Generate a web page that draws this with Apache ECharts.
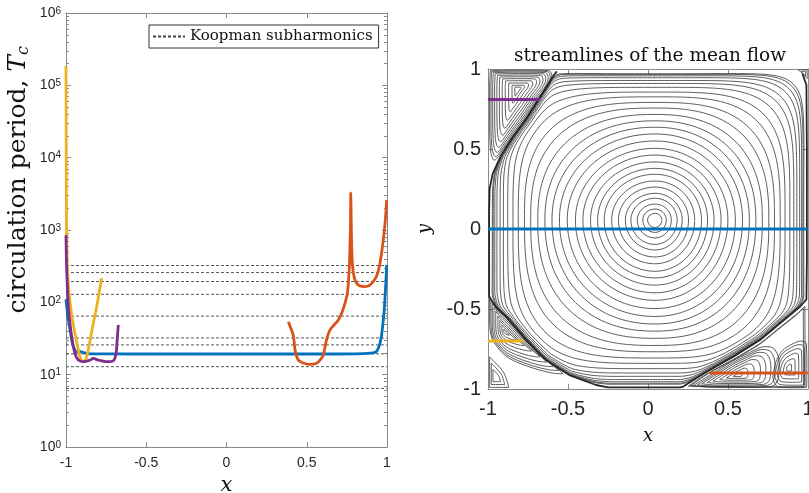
<!DOCTYPE html>
<html>
<head>
<meta charset="utf-8">
<script src="https://cdn.jsdelivr.net/npm/echarts@6/dist/echarts.min.js"></script>
<style>
  html, body { margin: 0; padding: 0; background: #fff; }
  #chart { width: 809px; height: 493px; }
</style>
</head>
<body>
<div id="chart"></div>
<script>
// ---------- circulation period along the four sampling lines ----------
const blueX = [-1, -0.995, -0.985, -0.972, -0.96, -0.945, -0.93, -0.91, -0.89, -0.87, -0.8, -0.6, -0.3, 0, 0.3, 0.6, 0.8, 0.9, 0.925, 0.935, 0.945, 0.956, 0.967, 0.977, 0.983, 0.988, 0.993, 0.996, 0.998];
const blueT = [110, 85, 58, 38, 27, 22, 20.5, 20.8, 20.2, 19.6, 19.4, 19.3, 19.3, 19.3, 19.3, 19.3, 19.4, 19.8, 20.3, 21, 23, 27, 36, 57, 80, 120, 190, 260, 330];

const orangeX = [0.385, 0.416, 0.427, 0.447, 0.477, 0.52, 0.558, 0.583, 0.603, 0.614, 0.626, 0.645, 0.67, 0.697, 0.72, 0.738, 0.751, 0.759, 0.766, 0.769, 0.773, 0.774, 0.777, 0.78, 0.785, 0.794, 0.811, 0.832, 0.863, 0.888, 0.915, 0.938, 0.956, 0.973, 0.988, 0.998];
const orangeT = [54, 35, 22, 15.9, 14.5, 13.9, 14.3, 15.9, 18.7, 24.4, 32, 41.5, 48.6, 57, 73, 97, 126, 183, 328, 588, 1380, 3250, 1380, 588, 328, 230, 183, 168, 165, 170, 194, 238, 347, 620, 1240, 2600];

const yellowX = [-1, -0.999, -0.998, -0.997, -0.995, -0.99, -0.975, -0.955, -0.933, -0.913, -0.898, -0.888, -0.871, -0.85, -0.83, -0.81, -0.795, -0.778];
const yellowT = [185000, 40000, 6000, 1500, 600, 250, 100, 50, 28, 17.7, 15.4, 15.1, 17.7, 30, 51, 85, 130, 215];

const purpleX = [-1, -0.998, -0.995, -0.99, -0.984, -0.965, -0.944, -0.923, -0.892, -0.85, -0.83, -0.799, -0.746, -0.705, -0.688, -0.68, -0.674];
const purpleT = [850, 450, 250, 140, 80, 34, 19.5, 15.9, 15.1, 15.9, 16.8, 15.9, 15.1, 15.6, 19.7, 33.5, 48.6];

// Koopman subharmonic periods (dotted reference levels)
const subharmonics = [6.45, 12.9, 19.4, 25.8, 32.2, 64.5, 129, 194, 258, 323];

// y position of each sampling line in the cavity
const sampleLineY = { blue: 0, orange: -0.9, yellow: -0.7, purple: 0.81 };

// ---------- mean-flow streamlines ----------
// primary vortex: centre and radii of closed streamlines (measured upward from centre)
const vortexCenter = [0.044, 0.056];
const vortexRadii = [0.042, 0.069, 0.10, 0.136, 0.167, 0.206, 0.244, 0.286, 0.323, 0.363, 0.406, 0.448, 0.494, 0.538, 0.58, 0.62, 0.66, 0.70, 0.735, 0.77, 0.80, 0.83, 0.855, 0.875, 0.895, 0.91, 0.922, 0.93];

// dividing streamline around the primary vortex (closed polygon, top wall first)
const sepX = [0.93, 0.5, 0, -0.5, -0.57, -0.6, -0.64, -0.67, -0.76, -0.846, -0.919, -0.971, -0.99, -0.993, -0.993, -0.993, -0.95, -0.888, -0.763, -0.638, -0.492, -0.325, -0.25, 0, 0.2, 0.22, 0.367, 0.533, 0.70, 0.825, 0.95, 0.99, 0.993, 0.993, 0.99, 0.965];
const sepY = [0.988, 0.99, 0.99, 0.99, 0.985, 0.945, 0.88, 0.833, 0.69, 0.573, 0.458, 0.344, 0.25, 0.1, -0.2, -0.42, -0.49, -0.548, -0.694, -0.819, -0.913, -0.975, -0.99, -0.99, -0.99, -0.985, -0.892, -0.798, -0.694, -0.59, -0.486, -0.44, -0.2, 0.5, 0.9, 0.97];

// corner eddies: centre, outermost loop, nested loop fractions
const tlEddyCenter = [-0.815, 0.875];
const tlEddyX = [-0.985, -0.8, -0.62, -0.6, -0.63, -0.68, -0.76, -0.84, -0.91, -0.96, -0.985, -0.99, -0.99];
const tlEddyY = [0.99, 0.993, 0.99, 0.95, 0.88, 0.82, 0.70, 0.59, 0.49, 0.43, 0.5, 0.7, 0.9];
const tlEddyLevels = [0.1, 0.2, 0.32, 0.44, 0.55, 0.65, 0.74, 0.82, 0.89, 0.95, 1];

const blEddyCenter = [-0.894, -0.642];
const blEddyX = [-0.99, -0.94, -0.86, -0.77, -0.67, -0.58, -0.53, -0.6, -0.7, -0.8, -0.88, -0.94, -0.98, -0.99];
const blEddyY = [-0.43, -0.49, -0.565, -0.67, -0.78, -0.86, -0.905, -0.9, -0.875, -0.84, -0.8, -0.74, -0.67, -0.55];
const blEddyLevels = [0.08, 0.2, 0.33, 0.46, 0.6, 0.72, 0.83, 0.92, 1];

const bcEddyCenter = [-0.955, -0.93];
const bcEddyX = [-0.99, -0.99, -0.87, -0.9, -0.95];
const bcEddyY = [-0.8, -0.99, -0.99, -0.9, -0.84];
const bcEddyLevels = [0.4, 0.7, 1];

const raEddyCenter = [0.56, -0.915];
const raEddyX = [0.28, 0.4, 0.52, 0.64, 0.73, 0.79, 0.82, 0.81, 0.76, 0.6, 0.4];
const raEddyY = [-0.98, -0.905, -0.83, -0.77, -0.735, -0.75, -0.84, -0.95, -0.985, -0.99, -0.99];
const raEddyLevels = [0.1, 0.25, 0.4, 0.55, 0.68, 0.8, 0.9, 1];

const rbEddyCenter = [0.88, -0.87];
const rbEddyX = [0.78, 0.8, 0.84, 0.9, 0.96, 0.99, 0.993, 0.99, 0.9, 0.81];
const rbEddyY = [-0.93, -0.83, -0.76, -0.72, -0.7, -0.72, -0.85, -0.99, -0.992, -0.985];
const rbEddyLevels = [0.15, 0.35, 0.55, 0.72, 0.87, 1];

const rEnvCenter = [0.65, -0.9];
const rEnvX = [0.24, 0.367, 0.533, 0.70, 0.825, 0.95, 0.99, 0.992, 0.6];
const rEnvY = [-0.985, -0.9, -0.81, -0.71, -0.61, -0.51, -0.47, -0.99, -0.992];
const rEnvLevels = [0.94, 0.97];

const trEddyCenter = [0.975, 0.975];
const trEddyX = [0.94, 0.995, 0.995];
const trEddyY = [0.995, 0.995, 0.94];
const trEddyLevels = [0.5, 1];

const COLORS = { blue: '#0072BD', orange: '#D95319', yellow: '#EDB120', purple: '#7E2F8E' };
const AXIS_GREY = '#8a8a8a';
const TEXT = '#262626';
const STREAM = '#333333';

// ---------- helpers ----------
function zip(xs, ys) { return xs.map((x, i) => [x, ys[i]]); }

function rayDist(cx, cy, ang, px, py) {
  const dx = Math.cos(ang), dy = Math.sin(ang);
  let best = Infinity;
  for (let i = 0; i < px.length; i++) {
    const j = (i + 1) % px.length;
    const ex = px[j] - px[i], ey = py[j] - py[i];
    const den = dx * ey - dy * ex;
    if (Math.abs(den) < 1e-12) continue;
    const wx = px[i] - cx, wy = py[i] - cy;
    const t = (wx * ey - wy * ex) / den;
    const u = (wx * dy - wy * dx) / den;
    if (t > 0 && u >= -1e-9 && u <= 1 + 1e-9 && t < best) best = t;
  }
  return best;
}

function softMin(a, b, k) {
  const m = Math.min(a, b);
  return m - Math.log(Math.exp(-k * (a - m)) + Math.exp(-k * (b - m))) / k;
}

// closed streamlines of the primary vortex: circular at the core,
// rounded-square further out and bent along the dividing streamline near the eddies
function vortexLoops() {
  const [cx, cy] = vortexCenter;
  const N = 360;
  const bound = [];
  for (let k = 0; k <= N; k++) bound.push(rayDist(cx, cy, 2 * Math.PI * k / N, sepX, sepY));
  const wR = 0.993 - cx, wL = 0.993 + cx, wU = 0.99 - cy, wD = 0.99 + cy;
  return vortexRadii.map(r => {
    const s = r / wU;
    const n = 2 + 6 * Math.pow(s, 8);
    const pts = [];
    for (let k = 0; k <= N; k++) {
      const a = 2 * Math.PI * k / N;
      const c = Math.cos(a), si = Math.sin(a);
      const ax = c >= 0 ? wR : wL, ay = si >= 0 ? wU : wD;
      const rs = Math.pow(Math.pow(Math.abs(c) / ax, n) + Math.pow(Math.abs(si) / ay, n), -1 / n);
      const rb = bound[k] + 0.8 * (1 - s);
      const rr = s * softMin(rs, rb, 40);
      pts.push([cx + rr * c, cy + rr * si]);
    }
    return pts;
  });
}

function eddyLoops(center, xs, ys, levels) {
  return levels.map(s => {
    const pts = xs.map((x, i) => [center[0] + s * (x - center[0]), center[1] + s * (ys[i] - center[1])]);
    pts.push(pts[0]);
    return pts;
  });
}

function streamSeries(loops, smooth, width, color) {
  return loops.map(pts => ({
    type: 'line', xAxisIndex: 2, yAxisIndex: 4, data: pts, smooth: smooth,
    showSymbol: false, symbol: 'none', silent: true, clip: true,
    lineStyle: { color: color || STREAM, width: width || 0.8 }
  }));
}

function sampleLine(xs, y, color) {
  return {
    type: 'line', xAxisIndex: 2, yAxisIndex: 4, symbol: 'none', silent: true, z: 5,
    data: [[xs[0], y], [xs[xs.length - 1], y]],
    lineStyle: { color: color, width: 3 }
  };
}

// dividing streamline drawn open: everything except the stretch along the lid
const sepPath = zip(sepX, sepY).slice(4);

const subData = [];
subharmonics.forEach(v => { subData.push([-1, v], [1, v], [0, '-']); });

const minorVals = [];
for (let e = 0; e < 6; e++) for (let m = 2; m <= 9; m++) minorVals.push(m * Math.pow(10, e));

const logLabel = v => '{b|10}{e|' + Math.round(Math.log10(v)) + '}';

const periodCurve = (name, xs, ts, color) => ({
  name: name, type: 'line', xAxisIndex: 0, yAxisIndex: 0, data: zip(xs, ts),
  symbol: 'none', smooth: 0.25, lineStyle: { color: color, width: 2.8 }, z: 3
});

const tickAxisX = (grid, pos, show, fs, margin) => ({
  type: 'value', gridIndex: grid, position: pos, min: -1, max: 1, interval: 0.5,
  axisLine: { show: true, onZero: false, lineStyle: { color: AXIS_GREY, width: 1 } },
  axisTick: { show: true, inside: true, length: 5, lineStyle: { color: AXIS_GREY } },
  splitLine: { show: false },
  axisLabel: { show: show, fontFamily: 'Liberation Sans', fontSize: fs, color: TEXT, margin: margin }
});

const logAxis = (pos, major, labels) => ({
  type: 'log', logBase: 10, gridIndex: 0, position: pos, min: 1, max: 1e6, splitNumber: 6,
  axisLine: { show: major, onZero: false, lineStyle: { color: AXIS_GREY } },
  axisTick: major
    ? { show: true, inside: true, length: 5, lineStyle: { color: AXIS_GREY } }
    : { show: true, inside: true, length: 3, customValues: minorVals, lineStyle: { color: AXIS_GREY } },
  splitLine: { show: false },
  axisLabel: labels ? {
    formatter: logLabel, margin: 5,
    rich: {
      b: { fontFamily: 'Liberation Sans', fontSize: 14, lineHeight: 14, color: TEXT, verticalAlign: 'bottom' },
      e: { fontFamily: 'Liberation Sans', fontSize: 10, lineHeight: 10, color: TEXT, verticalAlign: 'top', padding: [0, 0, 9, 0] }
    }
  } : { show: false }
});

const chart = echarts.init(document.getElementById('chart'), null, { renderer: 'canvas' });

const option = {
  animation: false,
  backgroundColor: '#fff',
  title: {
    text: 'streamlines of the mean flow', left: 645, top: 42, textAlign: 'center',
    textStyle: { fontFamily: 'DejaVu Serif', fontWeight: 'normal', fontSize: 18.5, color: '#111' }
  },
  legend: {
    data: [{ name: 'Koopman subharmonics', textStyle: { fontFamily: 'DejaVu Serif' } }],
    left: 149, top: 25, orient: 'horizontal',
    backgroundColor: '#fff', borderColor: '#333', borderWidth: 1, borderRadius: 0,
    padding: [4, 6, 4, 3], itemWidth: 32, itemHeight: 2, itemGap: 4,
    textStyle: { fontFamily: 'DejaVu Serif', fontSize: 15, color: '#111' }
  },
  grid: [
    { left: 66, top: 13, width: 321, height: 434, outerBoundsMode: 'none', containLabel: false },
    { left: 488, top: 69, width: 320, height: 320, outerBoundsMode: 'none', containLabel: false }
  ],
  xAxis: [
    Object.assign(tickAxisX(0, 'bottom', true, 14, 9), {
      name: 'x', nameLocation: 'middle', nameGap: 28,
      nameTextStyle: { fontFamily: 'DejaVu Serif', fontStyle: 'italic', fontSize: 21, color: '#111' }
    }),
    tickAxisX(0, 'top', false, 14, 8),
    Object.assign(tickAxisX(1, 'bottom', true, 20, 10), {
      name: 'x', nameLocation: 'middle', nameGap: 38,
      nameTextStyle: { fontFamily: 'DejaVu Serif', fontStyle: 'italic', fontSize: 18, color: '#111' }
    }),
    tickAxisX(1, 'top', false, 20, 8)
  ],
  yAxis: [
    logAxis('left', true, true),
    logAxis('right', true, false),
    logAxis('left', false, false),
    logAxis('right', false, false),
    {
      type: 'value', gridIndex: 1, position: 'left', min: -1, max: 1, interval: 0.5,
      axisLine: { show: true, onZero: false, lineStyle: { color: AXIS_GREY } },
      axisTick: { show: true, inside: true, length: 5, lineStyle: { color: AXIS_GREY } },
      splitLine: { show: false },
      axisLabel: { fontFamily: 'Liberation Sans', fontSize: 20, color: TEXT, margin: 7 },
      name: 'y', nameLocation: 'middle', nameGap: 54, nameRotate: 90,
      nameTextStyle: { fontFamily: 'DejaVu Serif', fontStyle: 'italic', fontSize: 18, color: '#111' }
    },
    {
      type: 'value', gridIndex: 1, position: 'right', min: -1, max: 1, interval: 0.5,
      axisLine: { show: true, onZero: false, lineStyle: { color: AXIS_GREY } },
      axisTick: { show: true, inside: true, length: 5, lineStyle: { color: AXIS_GREY } },
      splitLine: { show: false }, axisLabel: { show: false }
    }
  ],
  graphic: [{
    type: 'text', left: 6, top: 46, rotation: Math.PI / 2,
    style: {
      text: '{n|circulation period, }{t|T}{c|c}',
      rich: {
        n: { fontFamily: 'DejaVu Serif', fontSize: 25, fill: '#111' },
        t: { fontFamily: 'DejaVu Serif', fontStyle: 'italic', fontSize: 25, fill: '#111' },
        c: { fontFamily: 'DejaVu Serif', fontStyle: 'italic', fontSize: 16, fill: '#111', padding: [10, 0, 0, 0] }
      }
    }
  }],
  series: [].concat(
    [{
      name: 'Koopman subharmonics', type: 'line', xAxisIndex: 0, yAxisIndex: 0, data: subData,
      symbol: 'none', connectNulls: false, z: 1,
      lineStyle: { color: '#444', width: 0.9, type: [3, 2] },
      itemStyle: { color: '#444' }
    }],
    [
      periodCurve('blue', blueX, blueT, COLORS.blue),
      periodCurve('orange', orangeX, orangeT, COLORS.orange),
      periodCurve('yellow', yellowX, yellowT, COLORS.yellow),
      periodCurve('purple', purpleX, purpleT, COLORS.purple)
    ],
    streamSeries(vortexLoops(), false),
    streamSeries(eddyLoops(tlEddyCenter, tlEddyX, tlEddyY, tlEddyLevels), 0.35),
    streamSeries(eddyLoops(blEddyCenter, blEddyX, blEddyY, blEddyLevels), 0.35),
    streamSeries(eddyLoops(bcEddyCenter, bcEddyX, bcEddyY, bcEddyLevels), 0.3),
    streamSeries(eddyLoops(raEddyCenter, raEddyX, raEddyY, raEddyLevels), 0.35),
    streamSeries(eddyLoops(rbEddyCenter, rbEddyX, rbEddyY, rbEddyLevels), 0.35),
    streamSeries(eddyLoops(rEnvCenter, rEnvX, rEnvY, rEnvLevels), 0.2),
    streamSeries(eddyLoops(trEddyCenter, trEddyX, trEddyY, trEddyLevels), 0.3),
    streamSeries([sepPath], false, 1.8, '#262626'),
    [
      sampleLine(blueX, sampleLineY.blue, COLORS.blue),
      sampleLine(orangeX, sampleLineY.orange, COLORS.orange),
      sampleLine(yellowX, sampleLineY.yellow, COLORS.yellow),
      sampleLine(purpleX, sampleLineY.purple, COLORS.purple)
    ]
  )
};

chart.setOption(option);
</script>
</body>
</html>
